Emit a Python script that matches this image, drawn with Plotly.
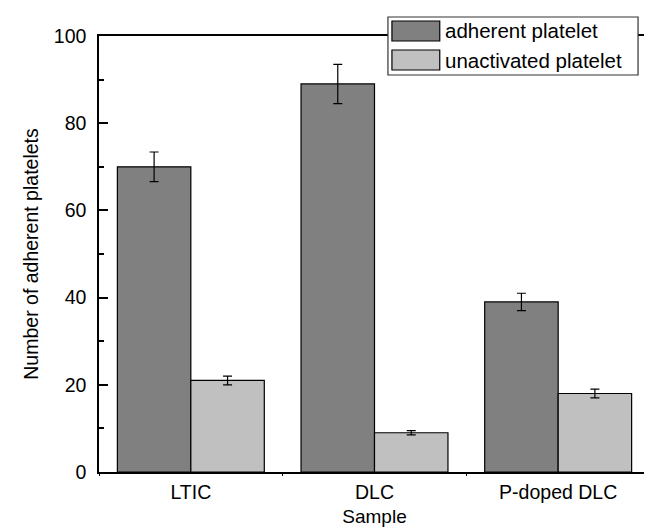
import plotly.graph_objects as go

samples = ["LTIC", "DLC", "P-doped DLC"]
adherent = [70, 89, 39]
adherent_err = [3.4, 4.5, 2.0]
unactivated = [21, 9, 18]
unactivated_err = [1.0, 0.5, 1.0]
series_names = ["adherent platelet", "unactivated platelet"]
y_ticks = [0, 20, 40, 60, 80, 100]

DARK = "#808080"
LIGHT = "#c0c0c0"
FONT = "Liberation Sans, Arial, Helvetica, sans-serif"
FS = 19.5

fig = go.Figure()
for name, vals, errs, col in [
    (series_names[0], adherent, adherent_err, DARK),
    (series_names[1], unactivated, unactivated_err, LIGHT),
]:
    fig.add_trace(go.Bar(
        x=samples, y=vals, name=name,
        marker=dict(color=col, line=dict(color="black", width=1.2)),
        error_y=dict(type="data", array=errs, visible=True,
                     color="black", thickness=1.2, width=4.5),
        showlegend=False,
    ))

fig.update_layout(
    width=652, height=528,
    margin=dict(l=91, r=8, t=28, b=64),
    paper_bgcolor="white", plot_bgcolor="white",
    barmode="group", bargap=0.2, bargroupgap=0,
    font=dict(family=FONT, size=FS, color="black"),
)
fig.update_xaxes(
    showline=True, linecolor="black", linewidth=1.5, mirror=True,
    ticks="outside", tickson="boundaries", ticklen=2, tickwidth=1, tickcolor="black",
    showgrid=False, ticklabelstandoff=2,
    title=dict(text="Sample", standoff=8, font=dict(size=19)),
    tickfont=dict(size=FS),
)
fig.update_yaxes(
    range=[0, 100], tickvals=y_ticks,
    showline=True, linecolor="black", linewidth=1.5, mirror=True,
    ticks="inside", ticklen=9, tickwidth=1.5, tickcolor="black",
    minor=dict(ticks="inside", ticklen=5, tickwidth=1.5, tickcolor="black", dtick=10),
    showgrid=False, zeroline=False, ticklabelstandoff=7,
    title=dict(text="Number of adherent platelets", standoff=10, font=dict(size=FS)),
    tickfont=dict(size=FS),
)

# legend drawn as shapes/annotations (wide swatches)
px_w, px_h = 553, 436
def px2x(px):
    return (px - 91) / px_w
def py2y(py):
    return (464 - py) / px_h

fig.add_shape(type="rect", xref="paper", yref="paper",
              x0=px2x(381), x1=px2x(632), y0=py2y(67), y1=py2y(9),
              fillcolor="white", line=dict(color="#333333", width=1.2), layer="above")
for i, (name, col) in enumerate(zip(series_names, [DARK, LIGHT])):
    top = 13 + i * 29
    fig.add_shape(type="rect", xref="paper", yref="paper",
                  x0=px2x(385), x1=px2x(433), y0=py2y(top + 20), y1=py2y(top),
                  fillcolor=col, line=dict(color="black", width=1.2), layer="above")
    fig.add_annotation(xref="paper", yref="paper", x=px2x(436), y=py2y(top + 10),
                       text=name, showarrow=False, xanchor="left", yanchor="middle",
                       font=dict(family=FONT, size=20.5, color="black"))

fig.write_html("out.html")
